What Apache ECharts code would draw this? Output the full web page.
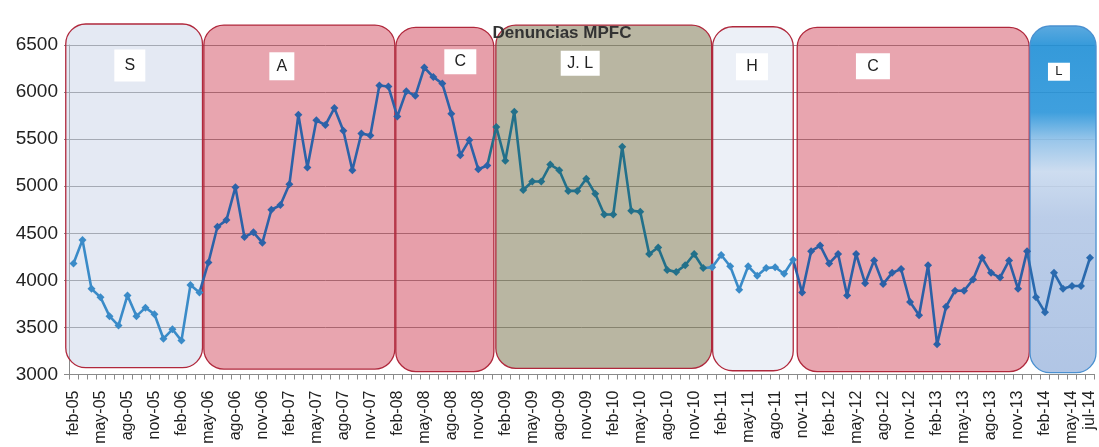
<!DOCTYPE html>
<html><head><meta charset="utf-8">
<script src="https://cdn.jsdelivr.net/npm/echarts@6/dist/echarts.min.js"></script>
<style>html,body{margin:0;padding:0;background:#fff}#c{width:1099px;height:447px}</style>
</head><body><div id="c"></div>
<script>
// ---- data ----
const monthNames = ['ene','feb','mar','abr','may','jun','jul','ago','sep','oct','nov','dic'];
const categories = [];
for (let y = 5; y <= 14; y++) {
  for (let m = 0; m < 12; m++) {
    if (y === 5 && m < 1) continue;
    if (y === 14 && m > 6) break;
    categories.push(monthNames[m] + '-' + String(y).padStart(2, '0'));
  }
}
const denuncias = [
  4180,4430,3910,3820,3620,3520,3840,3620,3710,3640,
  3380,3480,3360,3950,3870,4190,4570,4640,4990,4460,
  4510,4400,4750,4800,5020,5760,5200,5700,5650,5830,
  5590,5170,5560,5540,6070,6060,5740,6010,5960,6260,
  6160,6090,5770,5330,5490,5180,5220,5630,5270,5790,
  4960,5050,5050,5230,5170,4950,4950,5080,4920,4700,
  4700,5420,4740,4730,4280,4350,4110,4090,4160,4280,
  4130,4140,4270,4150,3900,4150,4050,4130,4140,4070,
  4220,3870,4310,4370,4180,4280,3840,4280,3970,4210,
  3960,4080,4120,3770,3630,4160,3320,3720,3890,3890,
  4010,4240,4080,4030,4210,3910,4310,3820,3660,4080,
  3910,3940,3940,4240
];
const yTicks = [3000,3500,4000,4500,5000,5500,6000,6500];
// periods (category index units, value units)
const regionLabels = ['S','A','C','J. L','H','C','L'];
const regionStart  = [-0.86, 14.49, 35.83, 46.95, 71.05, 80.45, 106.33];
const regionEnd    = [14.34, 35.72, 46.73, 70.94, 80.01, 106.25, 113.67];
const regionTop    = [6723, 6712, 6688, 6712, 6694, 6688, 6702];
const regionBottom = [3072, 3058, 3030, 3066, 3040, 3030, 3019];
const labelAt      = [6.26, 23.16, 43.0, 56.33, 75.42, 88.87, 109.55];
const labelLevel   = [6282, 6274, 6323, 6306, 6270, 6274, 6216];

// ---- styles ----
const labelBoxW = [31, 25, 32, 39, 32, 34, 22];
const labelBoxH = [32, 28, 25, 25, 27, 26, 18];
const pink = 'rgba(204,55,77,0.45)';
const lGrad = new echarts.graphic.LinearGradient(0, 0, 0, 1, [
  {offset: 0, color: 'rgba(74,160,220,0.9)'},
  {offset: 0.06, color: 'rgba(31,143,214,0.9)'},
  {offset: 0.25, color: 'rgba(42,149,218,0.9)'},
  {offset: 0.33, color: 'rgba(142,192,232,0.9)'},
  {offset: 0.42, color: 'rgba(200,217,238,0.9)'},
  {offset: 0.55, color: 'rgba(180,200,230,0.9)'},
  {offset: 1, color: 'rgba(168,191,226,0.9)'}
]);
const regionFill = [
  'rgba(195,207,228,0.45)', pink, 'rgba(204,55,77,0.48)', 'rgba(130,125,90,0.56)',
  'rgba(205,215,235,0.38)', pink, lGrad
];
const regionStroke = ['#b0283c','#b0283c','#b0283c','#b0283c','#b0283c','#b0283c','#4a90d0'];

function renderRegion(params, api) {
  const i = params.dataIndex;
  const band = api.size([1, 0])[0];
  const x0 = api.coord([0, 3000])[0];
  const xs = x0 + regionStart[i] * band;
  const xe = x0 + regionEnd[i] * band;
  const yt = api.coord([0, regionTop[i]])[1];
  const yb = api.coord([0, regionBottom[i]])[1];
  const lx = x0 + labelAt[i] * band;
  const ly = api.coord([0, labelLevel[i]])[1];
  const w = labelBoxW[i], h = labelBoxH[i];
  return {
    type: 'group',
    children: [
      { type: 'rect', shape: {x: xs, y: yt, width: xe - xs, height: yb - yt, r: 20},
        style: {fill: regionFill[i], stroke: regionStroke[i], lineWidth: 1.3} },
      { type: 'rect', shape: {x: lx - w / 2, y: ly - h / 2, width: w, height: h},
        style: {fill: '#ffffff'} },
      { type: 'text', x: lx, y: ly,
        style: {text: regionLabels[i], textAlign: 'center', textVerticalAlign: 'middle',
                align: 'center', verticalAlign: 'middle',
                font: (i === 6 ? '13px' : '16px') + ' "Liberation Sans"', fill: '#222'} }
    ]
  };
}

const chart = echarts.init(document.getElementById('c'), null, {renderer: 'canvas'});
chart.setOption({
  animation: false,
  backgroundColor: '#ffffff',
  title: {
    text: 'Denuncias MPFC', left: 557, top: 20, textAlign: 'center',
    textStyle: {fontFamily: 'Liberation Sans', fontWeight: 'bold', fontSize: 17, color: '#333'}
  },
  grid: {left: 69, right: 4.5, top: 45, bottom: 72.5, containLabel: false},
  xAxis: {
    type: 'category', data: categories, boundaryGap: true,
    axisLine: {lineStyle: {color: '#8a8a8a'}},
    axisTick: {show: true, interval: 0, length: 5, lineStyle: {color: '#8a8a8a'}},
    axisLabel: {
      rotate: 90, margin: 16, fontSize: 16, fontFamily: 'Liberation Sans', color: '#222',
      interval: (idx) => idx % 3 === 0 || idx === categories.length - 1
    },
    splitLine: {show: false}
  },
  yAxis: {
    type: 'value', min: yTicks[0], max: yTicks[yTicks.length - 1], interval: 500,
    axisLine: {show: true, lineStyle: {color: '#8a8a8a'}},
    axisTick: {show: true, length: 5, lineStyle: {color: '#8a8a8a'}},
    axisLabel: {margin: 11, fontSize: 19, fontFamily: 'Liberation Sans', color: '#222',
                formatter: (v) => String(v)},
    splitLine: {show: true, lineStyle: {color: '#8c8c8c', width: 1}}
  },
  visualMap: {
    show: false, type: 'piecewise', dimension: 0, seriesIndex: 1,
    pieces: [
      {lte: 14, color: '#3a8bc8'},
      {gt: 14, lte: 46, color: '#2c62a8'},
      {gt: 46, lte: 70, color: '#22708a'},
      {gt: 70, lte: 80, color: '#3a8bc8'},
      {gt: 80, lte: 106, color: '#2b60a6'},
      {gt: 106, color: '#2a6aae'}
    ]
  },
  series: [
    {
      type: 'custom', z: 1, silent: true, clip: false,
      renderItem: renderRegion,
      data: regionLabels.map((n, i) => [i, yTicks[0]])
    },
    {
      type: 'line', z: 5, data: denuncias,
      symbol: 'diamond', symbolSize: 8, showSymbol: true, showAllSymbol: true,
      lineStyle: {width: 2.6},
      itemStyle: {borderWidth: 0}
    }
  ]
});
</script>
</body></html>
